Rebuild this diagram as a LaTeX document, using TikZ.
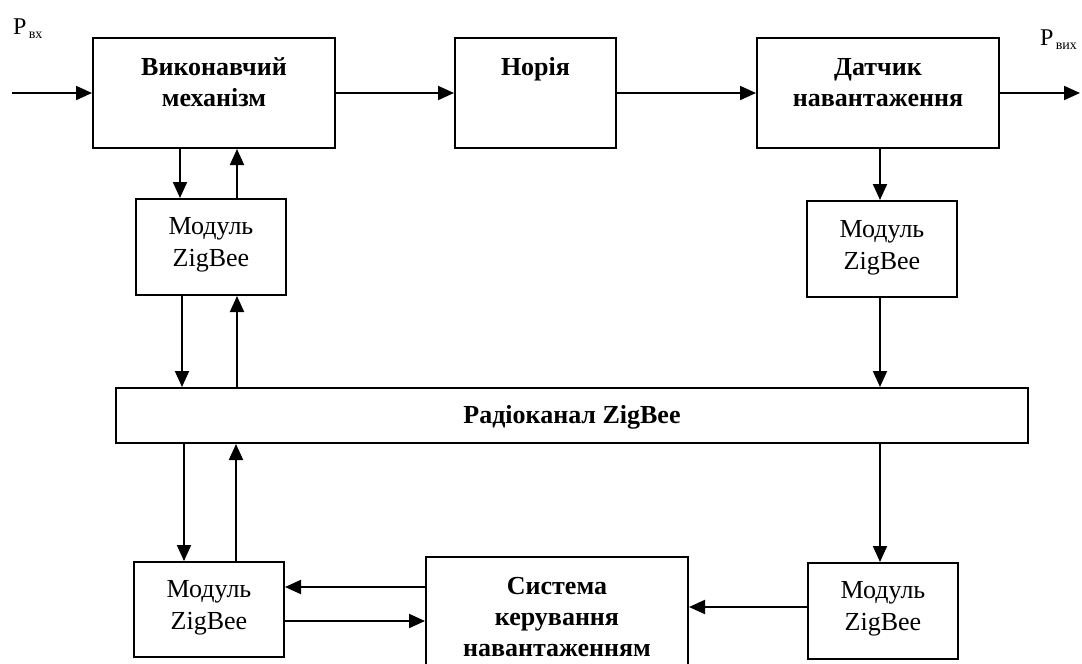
\documentclass[tikz,border=0pt]{standalone}
\usepackage{fontspec}
\setmainfont{Liberation Serif}
\usetikzlibrary{arrows.meta}
\newcommand{\tpstrut}{\rule{0pt}{25pt}}
\tikzset{
  box/.style={draw, line width=2pt, inner sep=0pt, fill=white},
  arr/.style={line width=2pt, -{Triangle[length=16pt,width=14pt]}},
  btxt/.style={font=\fontsize{26}{31}\selectfont\bfseries, align=center, inner sep=0pt, anchor=north},
  rtxt/.style={font=\fontsize{26}{32.5}\selectfont, align=center, inner sep=0pt, anchor=north},
  ptxt/.style={font=\fontsize{24}{24}\selectfont, inner sep=0pt, anchor=base west},
}
\newcommand{\subtxt}[1]{\raisebox{-4.5pt}{\fontsize{14}{14}\selectfont\,#1}}
\begin{document}
\begin{tikzpicture}[x=1pt,y=-1pt]
\useasboundingbox (0,0) rectangle (1082,664);
\clip (0,0) rectangle (1082,664);
\fill[white] (0,0) rectangle (1082,664);

% boxes
\node[box, minimum width=242, minimum height=110] (vik) at (214,93) {};
\node[box, minimum width=161, minimum height=110] (nor) at (535.5,93) {};
\node[box, minimum width=242, minimum height=110] (dat) at (878,93) {};
\node[box, minimum width=150, minimum height=96] (m1) at (211,247) {};
\node[box, minimum width=150, minimum height=96] (m2) at (882,249) {};
\node[box, minimum width=912, minimum height=55] (radio) at (572,415.5) {};
\node[box, minimum width=150, minimum height=95] (m3) at (209,609.5) {};
\node[box, minimum width=262, minimum height=125] (sys) at (557,619.5) {};
\node[box, minimum width=150, minimum height=96] (m4) at (883,611) {};

% texts
\node[btxt] (vik-t) at (214,50) {\tpstrut Виконавчий\\механізм};
\node[btxt] (nor-t) at (535.5,50) {\tpstrut Норія};
\node[btxt] (dat-t) at (878,50) {\tpstrut Датчик\\навантаження};
\node[btxt] (sys-t) at (557,569) {\tpstrut Система\\керування\\навантаженням};
\node[rtxt] (m1-t) at (211,209) {\tpstrut Модуль\\ZigBee};
\node[rtxt] (m2-t) at (882,212) {\tpstrut Модуль\\ZigBee};
\node[rtxt] (m3-t) at (209,572) {\tpstrut Модуль\\ZigBee};
\node[rtxt] (m4-t) at (883,573) {\tpstrut Модуль\\ZigBee};
\node[font=\fontsize{26}{31}\selectfont\bfseries, inner sep=0pt, anchor=base] (radio-t) at (572,423) {Радіоканал ZigBee};
\node[ptxt] (pin) at (13,34) {P\subtxt{вх}};
\node[ptxt] (pout) at (1040,45) {P\subtxt{вих}};

% column / end coordinates
\coordinate (in) at (12,93);
\coordinate (out) at (1080,93);
\coordinate (cA) at (180,0);
\coordinate (cB) at (237,0);
\coordinate (cC) at (182,0);
\coordinate (cD) at (184,0);
\coordinate (cE) at (236,0);
\coordinate (cR) at (880,0);
\coordinate (r1) at (0,587);
\coordinate (r2) at (0,621);
\coordinate (r3) at (0,607);

% main chain
\draw[arr] (in) -- (vik.west);
\draw[arr] (vik.east) -- (nor.west);
\draw[arr] (nor.east) -- (dat.west);
\draw[arr] (dat.east) -- (out);

% left column
\draw[arr] (vik.south -| cA) -- (m1.north -| cA);
\draw[arr] (m1.north -| cB) -- (vik.south -| cB);
\draw[arr] (m1.south -| cC) -- (radio.north -| cC);
\draw[arr] (radio.north -| cB) -- (m1.south -| cB);
\draw[arr] (radio.south -| cD) -- (m3.north -| cD);
\draw[arr] (m3.north -| cE) -- (radio.south -| cE);

% right column
\draw[arr] (dat.south -| cR) -- (m2.north -| cR);
\draw[arr] (m2.south -| cR) -- (radio.north -| cR);
\draw[arr] (radio.south -| cR) -- (m4.north -| cR);

% bottom row
\draw[arr] (m4.west |- r3) -- (sys.east |- r3);
\draw[arr] (sys.west |- r1) -- (m3.east |- r1);
\draw[arr] (m3.east |- r2) -- (sys.west |- r2);
\end{tikzpicture}
\end{document}
